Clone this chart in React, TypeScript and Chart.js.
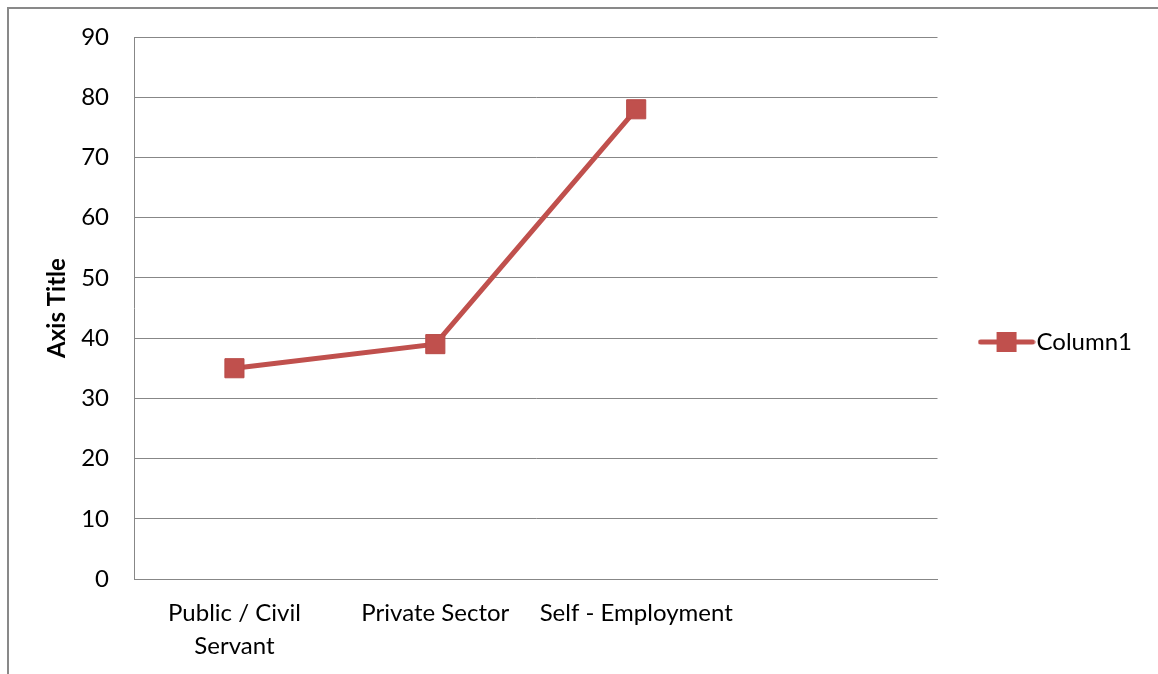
import React, { useEffect, useRef } from "react";
import { Chart, registerables } from "chart.js";

Chart.register(...registerables);

const categories: (string | string[])[] = [["Public / Civil", "Servant"], "Private Sector", "Self - Employment", ""];
const column1Values: (number | null)[] = [35, 39, 78, null];
const yTicksMin = 0;
const yTicksMax = 90;
const yTickStep = 10;
const seriesName = "Column1";
const yAxisTitle = "Axis Title";

const RED = "#C0504D";
const GRID = "#878787";
const FONT = "Lato, 'Open Sans', sans-serif";

function makeLegendSymbol(): HTMLCanvasElement {
  const c = document.createElement("canvas");
  c.width = 58;
  c.height = 22;
  const ctx = c.getContext("2d")!;
  ctx.strokeStyle = RED;
  ctx.lineWidth = 5;
  ctx.lineCap = "round";
  ctx.beginPath();
  ctx.moveTo(3, 11);
  ctx.lineTo(55, 11);
  ctx.stroke();
  ctx.fillStyle = RED;
  ctx.fillRect(19, 1, 20, 20);
  return c;
}

export default function App() {
  const ref = useRef<HTMLCanvasElement | null>(null);

  useEffect(() => {
    if (!ref.current) return;
    const symbol = makeLegendSymbol();
    const chart = new Chart(ref.current, {
      type: "line",
      data: {
        labels: categories,
        datasets: [
          {
            label: seriesName,
            data: column1Values,
            borderColor: RED,
            backgroundColor: RED,
            borderWidth: 5,
            pointStyle: "rect",
            pointRadius: 13.5,
            pointBorderWidth: 1,
            pointBorderColor: "#B84A47",
            pointBackgroundColor: RED,
            tension: 0,
            spanGaps: false,
          },
        ],
      },
      options: {
        animation: false,
        responsive: true,
        maintainAspectRatio: false,
        layout: { padding: { top: 10, right: 16, bottom: 0, left: 0 } },
        plugins: {
          tooltip: { enabled: false },
          title: {
            display: true,
            text: "",
            fullSize: false,
            font: { size: 10, lineHeight: 1.2 },
            padding: { top: 0, bottom: 15 },
          },
          legend: {
            position: "right",
            align: "center",
            labels: {
              usePointStyle: true,
              pointStyle: symbol as any,
              pointStyleWidth: 36,
              padding: 51,
              color: "#000",
              font: { family: FONT, size: 24 },
              generateLabels: () => [
                {
                  text: seriesName,
                  pointStyle: symbol,
                  fillStyle: RED,
                  strokeStyle: RED,
                  lineWidth: 0,
                  hidden: false,
                  datasetIndex: 0,
                  fontColor: "#000",
                },
              ],
            },
          },
        },
        scales: {
          x: {
            type: "category",
            offset: true,
            grid: { display: false, drawTicks: false },
            border: { display: true, color: GRID, width: 1 },
            ticks: {
              color: "#000",
              padding: 18,
              maxRotation: 0,
              autoSkip: false,
              font: { family: FONT, size: 24, lineHeight: 1.375 },
            },
            afterFit: (scale: any) => {
              scale.height = 95;
            },
          },
          y: {
            min: yTicksMin,
            max: yTicksMax,
            grid: { color: GRID, lineWidth: 1, drawTicks: false },
            border: { display: true, color: GRID, width: 1 },
            ticks: {
              stepSize: yTickStep,
              color: "#000",
              padding: 25,
              font: { family: FONT, size: 24, lineHeight: 1 },
            },
            title: {
              display: true,
              text: yAxisTitle,
              color: "#000",
              font: { family: FONT, size: 24, weight: "bold" },
              padding: { top: 42.5, bottom: 0 },
            },
            afterFit: (scale: any) => {
              scale.width = 134;
            },
          },
        },
      },
    });
    return () => chart.destroy();
  }, []);

  return (
    <div style={{ position: "absolute", left: 0, top: 0, width: 1158, height: 674, overflow: "hidden", background: "#fff" }}>
      <div
        style={{
          position: "absolute",
          left: 7,
          top: 7,
          width: 1160,
          height: 680,
          borderTop: "2px solid #898989",
          borderLeft: "2px solid #898989",
        }}
      />
      <div style={{ position: "absolute", left: 0, top: 0, width: 1158, height: 674 }}>
        <canvas ref={ref} />
      </div>
    </div>
  );
}
